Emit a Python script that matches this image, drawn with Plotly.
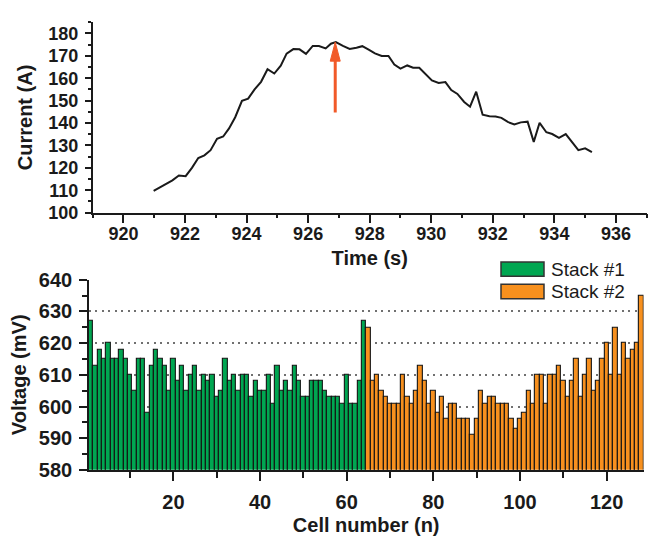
import plotly.graph_objects as go

# ---- top panel data: current vs time ----
time_s = [920.98, 921.20, 921.39, 921.59, 921.80, 922.02, 922.23, 922.43, 922.63, 922.83,
          923.04, 923.24, 923.43, 923.63, 923.85, 924.05, 924.26, 924.47, 924.68, 924.90,
          925.11, 925.30, 925.52, 925.72, 925.93, 926.15, 926.35, 926.57, 926.74, 926.90,
          927.13, 927.35, 927.57, 927.76, 927.98, 928.17, 928.39, 928.61, 928.80, 929.00,
          929.22, 929.41, 929.61, 929.83, 930.02, 930.24, 930.46, 930.65, 930.85, 931.07,
          931.26, 931.46, 931.67, 931.89, 932.09, 932.28, 932.50, 932.70, 932.91, 933.13,
          933.33, 933.52, 933.74, 933.93, 934.15, 934.37, 934.57, 934.78, 935.00, 935.22]
current_a = [109.7, 111.3, 112.9, 114.4, 116.6, 116.3, 120.1, 124.4, 125.6, 127.9,
             133.0, 134.0, 137.6, 142.6, 149.9, 150.9, 155.0, 158.4, 164.0, 162.1,
             165.6, 171.0, 173.0, 172.9, 170.9, 174.4, 174.4, 173.3, 175.4, 176.1,
             174.4, 173.1, 173.6, 174.3, 172.7, 171.1, 169.9, 169.9, 166.1, 164.3,
             165.7, 164.7, 164.7, 161.6, 159.0, 157.9, 158.3, 154.7, 153.0, 149.4,
             147.3, 154.0, 143.7, 143.0, 142.9, 142.3, 140.4, 139.4, 140.3, 140.6,
             131.6, 140.1, 135.9, 135.1, 133.4, 135.1, 131.6, 127.9, 128.7, 127.0]
arrow_time = 926.88
arrow_tail_a = 144.7
arrow_tip_a = 176.1

# ---- bottom panel data: cell voltages ----
cells_stack1 = list(range(1, 65))
volt_stack1 = [627, 613, 618, 615, 620, 615, 615, 618, 615, 610,
               605, 615, 615, 598, 613, 618, 615, 613, 605, 615,
               608, 613, 605, 610, 613, 605, 610, 608, 610, 603,
               605, 615, 608, 610, 605, 610, 610, 603, 608, 605,
               605, 610, 601, 613, 605, 608, 605, 613, 608, 603,
               603, 608, 608, 608, 605, 603, 603, 603, 601, 610,
               601, 601, 608, 627]
cells_stack2 = list(range(65, 129))
volt_stack2 = [625, 608, 610, 605, 603, 601, 601, 601, 610, 603,
               601, 605, 613, 608, 601, 605, 598, 603, 596, 601,
               601, 596, 596, 596, 591, 596, 605, 601, 603, 603,
               601, 601, 601, 596, 593, 596, 598, 605, 601, 610,
               610, 601, 610, 610, 613, 608, 603, 608, 615, 603,
               610, 615, 605, 608, 615, 620, 610, 625, 610, 620,
               615, 618, 620, 635]
series_names = ["Stack #1", "Stack #2"]

GREEN = "#00A651"
ORANGE = "#F7901E"
EDGE = "#141414"
INK = "#1a1a1a"
FONT = "Liberation Sans, Arial, sans-serif"
W, H = 651, 536

fig = go.Figure()
fig.add_trace(go.Scatter(x=time_s, y=current_a, mode="lines",
                         line=dict(color=INK, width=2), xaxis="x", yaxis="y",
                         showlegend=False))
fig.add_trace(go.Bar(x=cells_stack1, y=volt_stack1, width=1, name=series_names[0],
                     marker=dict(color=GREEN, line=dict(color=EDGE, width=1.1)),
                     xaxis="x2", yaxis="y2", showlegend=False))
fig.add_trace(go.Bar(x=cells_stack2, y=volt_stack2, width=1, name=series_names[1],
                     marker=dict(color=ORANGE, line=dict(color=EDGE, width=1.1)),
                     xaxis="x2", yaxis="y2", showlegend=False))

def px_x(p):
    return p / W

def px_y(p):
    return (H - p) / H

tick_font_top = dict(family=FONT, size=18, color=INK, weight="bold")
tick_font_bot = dict(family=FONT, size=20, color=INK, weight="bold")
title_font = dict(family=FONT, size=20, color=INK, weight="bold")

common = dict(showline=True, linecolor=INK, linewidth=1.5, ticks="outside",
              tickcolor=INK, tickwidth=1.5, showgrid=False, zeroline=False)

fig.update_layout(
    width=W, height=H,
    margin=dict(l=0, r=0, t=0, b=0),
    paper_bgcolor="white", plot_bgcolor="white",
    bargap=0,
    xaxis=dict(domain=[px_x(92.7), px_x(646.7)], range=[919, 937], anchor="y",
               tick0=920, dtick=2, ticklen=9, tickfont=tick_font_top,
               ticklabelstandoff=-5,
               minor=dict(dtick=1, ticklen=4, tickcolor=INK, ticks="outside"),
               title=dict(text="Time (s)", font=title_font, standoff=8), **common),
    yaxis=dict(domain=[px_y(210.3), px_y(11.7)], range=[100, 185], anchor="x",
               tick0=100, dtick=10, ticklen=6, tickfont=tick_font_top,
               ticklabelstandoff=3,
               minor=dict(dtick=5, ticklen=3, tickcolor=INK, ticks="outside"),
               title=dict(text="Current (A)", font=title_font, standoff=10), **common),
    xaxis2=dict(domain=[px_x(88.9), px_x(643.5)], range=[0.5, 128.5], anchor="y2",
                tick0=0, dtick=20, ticklen=9, tickfont=tick_font_bot,
                ticklabelstandoff=4,
                minor=dict(dtick=10, ticklen=6, tickcolor=INK, ticks="outside"),
                title=dict(text="Cell number (n)", font=title_font, standoff=8), **common),
    yaxis2=dict(domain=[px_y(478.5), px_y(280.3)], range=[580, 640], anchor="x2",
                tick0=580, dtick=10, ticklen=8, tickfont=tick_font_bot,
                ticklabelstandoff=3,
                minor=dict(dtick=5, ticklen=5, tickcolor=INK, ticks="outside"),
                title=dict(text="Voltage (mV)", font=title_font, standoff=7),
                **{**common, "showgrid": True, "gridcolor": "#707070",
                   "gridwidth": 1.6, "griddash": "2px,4.5px"}),
)

# red arrow marking the current peak
ARROW = "#F15A29"
fig.add_shape(type="line", xref="x", yref="y", x0=arrow_time, x1=arrow_time,
              y0=arrow_tail_a, y1=arrow_tip_a - 6, line=dict(color=ARROW, width=3))
fig.add_shape(type="path", xref="x", yref="y", xsizemode="pixel", ysizemode="pixel",
              xanchor=arrow_time, yanchor=arrow_tip_a,
              path="M-5,-19 L5,-19 L0,0 Z", fillcolor=ARROW, line=dict(color=ARROW, width=1))

# legend (boxes + labels)
legend_rows = [(series_names[0], GREEN, 261.7, 276.7), (series_names[1], ORANGE, 285.0, 300.0)]
for name, col, top, bot in legend_rows:
    fig.add_shape(type="rect", xref="paper", yref="paper",
                  x0=px_x(501), x1=px_x(544), y0=px_y(bot), y1=px_y(top),
                  fillcolor=col, line=dict(color="#333333", width=1.5))
    fig.add_annotation(xref="paper", yref="paper", x=px_x(549), y=px_y((top + bot) / 2),
                       xanchor="left", yanchor="middle", text=name, showarrow=False,
                       font=dict(family=FONT, size=19, color=INK))

fig.write_html("out.html")
